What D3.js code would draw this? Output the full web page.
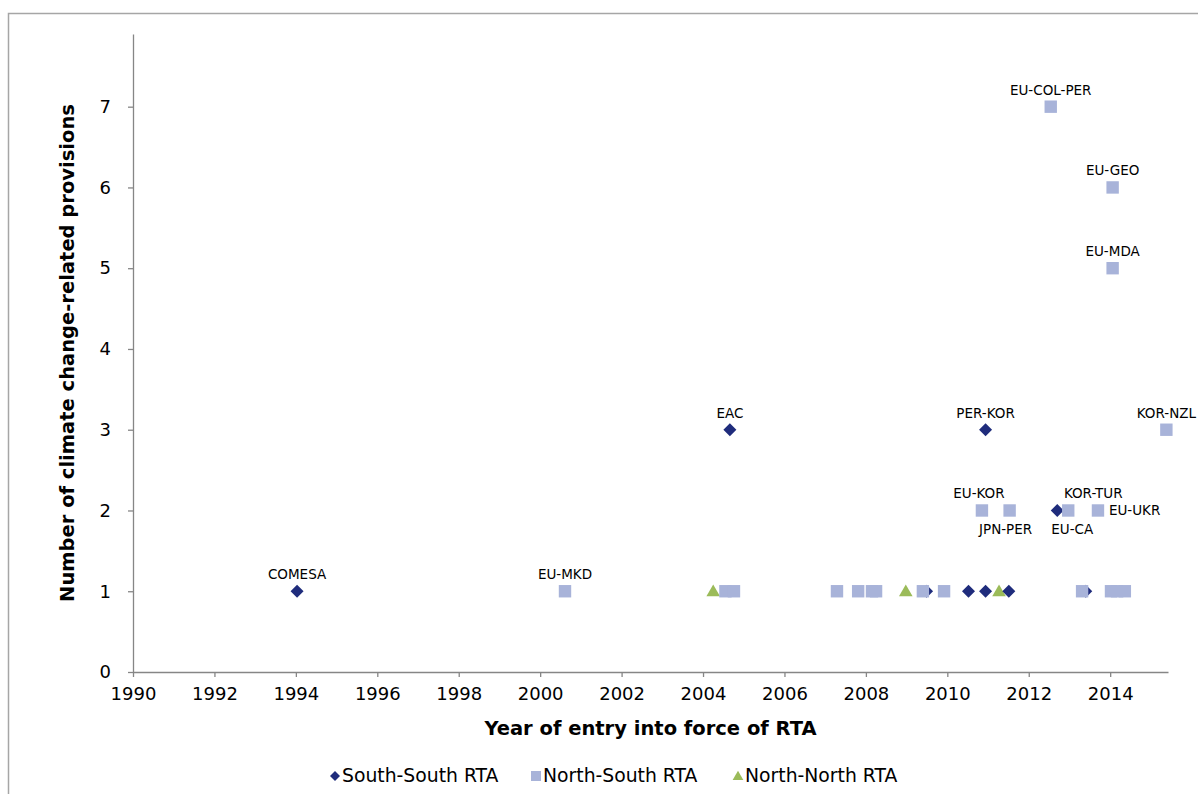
<!DOCTYPE html>
<html>
<head>
<meta charset="utf-8">
<script src="https://cdn.jsdelivr.net/npm/d3@7"></script>
<style>
  html, body { margin: 0; padding: 0; background: #fff; }
  svg { display: block; font-family: "DejaVu Sans", Verdana, sans-serif; }
</style>
</head>
<body>
<svg id="chart" width="1198" height="794"></svg>
<script>
// ---- Data ----
const ssYears  = [1994.03, 2004.66, 2009.49, 2010.52, 2010.94, 2010.94, 2011.51, 2012.70, 2013.40];
const ssValues = [1, 3, 1, 1, 1, 3, 1, 2, 1];
const ssLabels = ["COMESA", "EAC", "", "", "", "PER-KOR", "", "EU-CA", ""];

const nsYears  = [2000.61, 2004.55, 2004.76, 2007.29, 2007.81, 2008.15, 2008.25, 2009.40, 2009.92,
                  2010.85, 2011.53, 2012.54, 2012.97, 2013.31, 2013.70, 2014.02, 2014.17, 2014.36,
                  2014.06, 2014.06, 2015.38];
const nsValues = [1, 1, 1, 1, 1, 1, 1, 1, 1, 2, 2, 7, 2, 1, 2, 1, 1, 1, 6, 5, 3];
const nsLabels = ["EU-MKD", "", "", "", "", "", "", "", "", "EU-KOR", "JPN-PER", "EU-COL-PER",
                  "KOR-TUR", "", "EU-UKR", "", "", "", "EU-GEO", "EU-MDA", "KOR-NZL"];

const nnYears  = [2004.25, 2008.98, 2011.27];
const nnValues = [1, 1, 1];
const nnLabels = ["", "", ""];

const seriesNames = ["South-South RTA", "North-South RTA", "North-North RTA"];
const xTickValues = [1990, 1992, 1994, 1996, 1998, 2000, 2002, 2004, 2006, 2008, 2010, 2012, 2014];
const yTickValues = [0, 1, 2, 3, 4, 5, 6, 7];
const xTitle = "Year of entry into force of RTA";
const yTitle = "Number of climate change-related provisions";

// ---- Styling / label placement (not data) ----
const colors = { ss: "#1f2c7c", ns: "#a8b3d9", nn: "#9bbb59" };
const labelPlacement = {
  "JPN-PER": { pos: "below", dx: -4 },
  "EU-CA":   { pos: "below", dx: 15 },
  "KOR-TUR": { pos: "above", dx: 25 },
  "EU-UKR":  { pos: "right", dx: 0 },
  "EU-KOR":  { pos: "above", dx: -3 }
};

const svg = d3.select("#chart");

// outer chart border
svg.append("rect")
  .attr("x", 8.5).attr("y", 13.5)
  .attr("width", 1250).attr("height", 900)
  .attr("fill", "none").attr("stroke", "#a6a6a6").attr("stroke-width", 1.5);

const x = d3.scaleLinear().domain([1990, 2015.42]).range([133, 1168]);
const y = d3.scaleLinear().domain([0, 7.9]).range([672, 34]);

// axes
const xAxis = svg.append("g")
  .attr("transform", `translate(0,${y(0)})`)
  .call(d3.axisBottom(x).tickValues(xTickValues).tickFormat(d3.format("d")).tickSize(5).tickSizeOuter(0));
const yAxis = svg.append("g")
  .attr("transform", `translate(${x(1990)},0)`)
  .call(d3.axisLeft(y).tickValues(yTickValues).tickFormat(d3.format("d")).tickSize(5).tickSizeOuter(0));

[xAxis, yAxis].forEach(g => {
  g.select(".domain").attr("stroke", "#868686").attr("stroke-width", 1.3);
  g.selectAll(".tick line").attr("stroke", "#868686").attr("stroke-width", 1.3);
  g.selectAll(".tick text").attr("fill", "#000").style("font-size", "18px")
    .style("font-family", "'DejaVu Sans', Verdana, sans-serif");
});
xAxis.selectAll(".tick text").attr("dy", "0.71em").attr("y", 15);
yAxis.selectAll(".tick text").attr("x", -22);

// axis titles
svg.append("text")
  .attr("x", (x.range()[0] + x.range()[1]) / 2).attr("y", 735)
  .attr("text-anchor", "middle").style("font-weight", "bold").style("font-size", "19.5px")
  .text(xTitle);
svg.append("text")
  .attr("transform", `translate(74,${(y.range()[0] + y.range()[1]) / 2}) rotate(-90)`)
  .attr("text-anchor", "middle").style("font-weight", "bold").style("font-size", "19.5px")
  .text(yTitle);

// marker generators
const sq = 12.4;
const diamond = d3.symbol().type(d3.symbolSquare).size(sq * sq * 0.55);
const tri = d3.symbol().type(d3.symbolTriangle).size(80);

function makePts(xs, vs, ls) { return xs.map((d, i) => ({ year: d, value: vs[i], label: ls[i] })); }
const ssPts = makePts(ssYears, ssValues, ssLabels);
const nsPts = makePts(nsYears, nsValues, nsLabels);
const nnPts = makePts(nnYears, nnValues, nnLabels);

const plot = svg.append("g");
// North-North (triangles) drawn first
plot.selectAll(".nn").data(nnPts).enter().append("path")
  .attr("d", tri)
  .attr("transform", d => `translate(${x(d.year)},${y(d.value) + 1})`)
  .attr("fill", colors.nn);
// South-South (diamonds)
plot.selectAll(".ss").data(ssPts).enter().append("path")
  .attr("d", diamond)
  .attr("transform", d => `translate(${x(d.year)},${y(d.value)}) rotate(45)`)
  .attr("fill", colors.ss);
// North-South (squares)
plot.selectAll(".ns").data(nsPts).enter().append("rect")
  .attr("x", d => x(d.year) - sq / 2).attr("y", d => y(d.value) - sq / 2)
  .attr("width", sq).attr("height", sq)
  .attr("fill", colors.ns);

// data labels
const labeled = ssPts.concat(nsPts).filter(d => d.label);
svg.append("g").selectAll("text").data(labeled).enter().append("text")
  .style("font-size", "13.5px").attr("fill", "#000")
  .each(function(d) {
    const p = labelPlacement[d.label] || { pos: "above", dx: 0 };
    const t = d3.select(this);
    const px = x(d.year), py = y(d.value);
    if (p.pos === "right") {
      t.attr("x", px + 11).attr("y", py + 5).attr("text-anchor", "start");
    } else if (p.pos === "below") {
      t.attr("x", px + p.dx).attr("y", py + 24).attr("text-anchor", "middle");
    } else {
      t.attr("x", px + p.dx).attr("y", py - 12).attr("text-anchor", "middle");
    }
  })
  .text(d => d.label);

// legend
const legendY = 776;
const legend = svg.append("g");
const legendItems = [
  { name: seriesNames[0], kind: "ss", x: 335 },
  { name: seriesNames[1], kind: "ns", x: 536 },
  { name: seriesNames[2], kind: "nn", x: 738 }
];
legendItems.forEach(it => {
  if (it.kind === "ss") {
    legend.append("path").attr("d", d3.symbol().type(d3.symbolSquare).size(50))
      .attr("transform", `translate(${it.x},${legendY}) rotate(45)`).attr("fill", colors.ss);
  } else if (it.kind === "ns") {
    legend.append("rect").attr("x", it.x - 5).attr("y", legendY - 5).attr("width", 10).attr("height", 10)
      .attr("fill", colors.ns);
  } else {
    legend.append("path").attr("d", d3.symbol().type(d3.symbolTriangle).size(50))
      .attr("transform", `translate(${it.x},${legendY + 1})`).attr("fill", colors.nn);
  }
  legend.append("text").attr("x", it.x + 7).attr("y", legendY + 6)
    .style("font-size", "18.8px").text(it.name);
});
</script>
</body>
</html>
